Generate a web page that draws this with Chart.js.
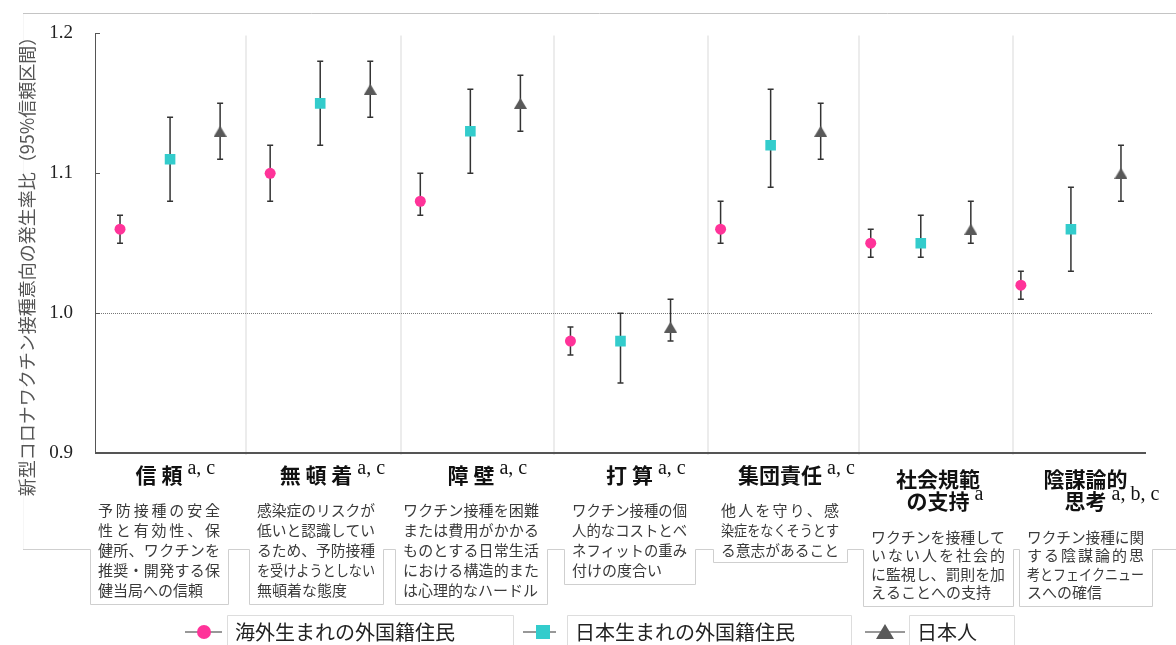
<!DOCTYPE html>
<html lang="ja">
<head>
<meta charset="utf-8">
<script src="https://cdn.jsdelivr.net/npm/chart.js@4.4.1/dist/chart.umd.min.js"></script>
<style>
  html, body { margin: 0; padding: 0; background: #fff; }
  #wrap { width: 1176px; height: 645px; }
</style>
</head>
<body>
<div id="wrap"><canvas id="myChart" width="1176" height="645"></canvas></div>
<script>
// categories and footnote marks
const categories = [["信 頼"], ["無 頓 着"], ["障 壁"], ["打 算"], ["集団責任"], ["社会規範", "の支持"], ["陰謀論的", "思考"]];
const footnotes = ["a, c", "a, c", "a, c", "a, c", "a, c", "a", "a, b, c"];
const descriptions = [
  ["予防接種の安全", "性と有効性、保", "健所、ワクチンを", "推奨・開発する保", "健当局への信頼"],
  ["感染症のリスクが", "低いと認識してい", "るため、予防接種", "を受けようとしない", "無頓着な態度"],
  ["ワクチン接種を困難", "または費用がかかる", "ものとする日常生活", "における構造的また", "は心理的なハードル"],
  ["ワクチン接種の個", "人的なコストとベ", "ネフィットの重み", "付けの度合い"],
  ["他人を守り、感", "染症をなくそうとす", "る意志があること"],
  ["ワクチンを接種して", "いない人を社会的", "に監視し、罰則を加", "えることへの支持"],
  ["ワクチン接種に関", "する陰謀論的思", "考とフェイクニュー", "スへの確信"]
];

const seriesNames = ["海外生まれの外国籍住民", "日本生まれの外国籍住民", "日本人"];

// incidence rate ratios with 95% CI
const foreignBorn     = [1.06, 1.10, 1.08, 0.98, 1.06, 1.05, 1.02];
const foreignBornLow  = [1.05, 1.08, 1.07, 0.97, 1.05, 1.04, 1.01];
const foreignBornHigh = [1.07, 1.12, 1.10, 0.99, 1.08, 1.06, 1.03];

const japanBornForeign     = [1.11, 1.15, 1.13, 0.98, 1.12, 1.05, 1.06];
const japanBornForeignLow  = [1.08, 1.12, 1.10, 0.95, 1.09, 1.04, 1.03];
const japanBornForeignHigh = [1.14, 1.18, 1.16, 1.00, 1.16, 1.07, 1.09];

const japanese     = [1.13, 1.16, 1.15, 0.99, 1.13, 1.06, 1.10];
const japaneseLow  = [1.11, 1.14, 1.13, 0.98, 1.11, 1.05, 1.08];
const japaneseHigh = [1.15, 1.18, 1.17, 1.01, 1.15, 1.08, 1.12];

const yTicks = [0.9, 1.0, 1.1, 1.2];
const refLine = 1.0;

// layout (pixels / x units)
const separators = [2.52, 5.62, 8.68, 11.74, 14.76, 17.84];
const boxes = [
  [90, 228, 604], [249, 383, 604], [395, 547, 604], [564, 695, 584],
  [713, 847, 562], [863, 1013, 606], [1019, 1152, 606]
];
const boxTop = 549;

const colors = ["#ff3399", "#33cccc", "#595959"];
const JP = '"Noto Sans CJK JP", "Noto Sans", sans-serif';
const SERIF = '"Liberation Serif", "DejaVu Serif", serif';

function triangleImage(color, w, h) {
  const c = document.createElement("canvas");
  c.width = w; c.height = h;
  const g = c.getContext("2d");
  g.fillStyle = color;
  g.beginPath();
  g.moveTo(w / 2, 0);
  g.lineTo(w, h);
  g.lineTo(0, h);
  g.closePath();
  g.fill();
  return c;
}

function makePoints(values, s) {
  return values.map((v, i) => ({ x: i * 3 + s, y: v }));
}

function drawJustified(ctx, text, x, y, width, justify) {
  const chars = Array.from(text);
  const natural = ctx.measureText(text).width;
  if (!justify || natural >= width || chars.length < 2) {
    ctx.fillText(text, x, y, width);
    return;
  }
  const widths = chars.map((c) => ctx.measureText(c).width);
  const total = widths.reduce((a, b) => a + b, 0);
  const gap = (width - total) / (chars.length - 1);
  let cx = x;
  chars.forEach((c, k) => {
    ctx.fillText(c, cx, y);
    cx += widths[k] + gap;
  });
}

const errorBars = {
  id: "errorBars",
  beforeDatasetsDraw(chart) {
    const ctx = chart.ctx;
    const xs = chart.scales.x;
    const ys = chart.scales.y;
    const area = chart.chartArea;
    ctx.save();

    // group separators
    ctx.strokeStyle = "#e6e6e6";
    ctx.lineWidth = 1.5;
    separators.forEach((s) => {
      const px = Math.round(xs.getPixelForValue(s));
      ctx.beginPath();
      ctx.moveTo(px, area.top + 2);
      ctx.lineTo(px, area.bottom + 2);
      ctx.stroke();
    });

    // reference line at 1.0
    const ry = Math.round(ys.getPixelForValue(refLine)) + 0.5;
    ctx.strokeStyle = "#777";
    ctx.lineWidth = 1;
    ctx.setLineDash([1, 1]);
    ctx.beginPath();
    ctx.moveTo(area.left, ry);
    ctx.lineTo(area.right, ry);
    ctx.stroke();
    ctx.setLineDash([]);

    // axes
    ctx.strokeStyle = "#555";
    ctx.lineWidth = 1;
    ctx.beginPath();
    ctx.moveTo(area.left + 0.5, area.top);
    ctx.lineTo(area.left + 0.5, area.bottom);
    yTicks.forEach((t) => {
      const ty = Math.round(ys.getPixelForValue(t)) + 0.5;
      ctx.moveTo(area.left, ty);
      ctx.lineTo(area.left + 5, ty);
    });
    ctx.stroke();
    ctx.lineWidth = 2;
    ctx.beginPath();
    ctx.moveTo(area.left, area.bottom);
    ctx.lineTo(area.right - 7, area.bottom);
    ctx.stroke();

    // error bars
    ctx.strokeStyle = "#333";
    ctx.lineWidth = 1.5;
    chart.data.datasets.forEach((ds) => {
      ds.data.forEach((p, i) => {
        const px = xs.getPixelForValue(p.x);
        const lo = ys.getPixelForValue(ds.lows[i]);
        const hi = ys.getPixelForValue(ds.highs[i]);
        ctx.beginPath();
        ctx.moveTo(px, lo);
        ctx.lineTo(px, hi);
        ctx.moveTo(px - 3, lo);
        ctx.lineTo(px + 3, lo);
        ctx.moveTo(px - 3, hi);
        ctx.lineTo(px + 3, hi);
        ctx.stroke();
      });
    });
    ctx.restore();
  },
  afterDraw(chart) {
    const ctx = chart.ctx;
    ctx.save();

    // frame lines
    ctx.strokeStyle = "#c4c4c4";
    ctx.lineWidth = 1;
    ctx.beginPath();
    ctx.moveTo(23, 13.5);
    ctx.lineTo(1176, 13.5);
    ctx.stroke();
    ctx.strokeStyle = "#f6f6f6";
    ctx.beginPath();
    ctx.moveTo(23.5, 14);
    ctx.lineTo(23.5, boxTop);
    ctx.stroke();

    // y axis title
    ctx.save();
    ctx.translate(27, 262);
    ctx.rotate(-Math.PI / 2);
    ctx.fillStyle = "#555";
    ctx.font = "18px " + JP;
    ctx.textAlign = "center";
    ctx.textBaseline = "middle";
    ctx.fillText("新型コロナワクチン接種意向の発生率比（95%信頼区間）", 0, 0);
    ctx.restore();

    // description boxes outline
    ctx.strokeStyle = "#cfcfcf";
    ctx.lineWidth = 1;
    ctx.beginPath();
    ctx.moveTo(23, boxTop + 0.5);
    boxes.forEach((b) => {
      ctx.lineTo(b[0] + 0.5, boxTop + 0.5);
      ctx.lineTo(b[0] + 0.5, b[2] + 0.5);
      ctx.lineTo(b[1] + 0.5, b[2] + 0.5);
      ctx.lineTo(b[1] + 0.5, boxTop + 0.5);
    });
    ctx.lineTo(1176, boxTop + 0.5);
    ctx.stroke();

    // category titles + footnotes
    categories.forEach((lines, i) => {
      const b = boxes[i];
      const cx = (b[0] + b[1]) / 2;
      const y0 = lines.length === 1 ? 475 : 479;
      ctx.font = "bold 21px " + JP;
      ctx.fillStyle = "#111";
      ctx.textAlign = "center";
      ctx.textBaseline = "middle";
      let lastW = 0, lastY = 0;
      lines.forEach((t, k) => {
        const y = y0 + k * 22;
        ctx.fillText(t, cx, y);
        lastW = ctx.measureText(t).width;
        lastY = y;
      });
      ctx.font = "20px " + SERIF;
      ctx.textAlign = "left";
      ctx.textBaseline = "alphabetic";
      ctx.fillText(footnotes[i], cx + lastW / 2 + 5, lastY - 1);
    });

    // descriptions
    ctx.font = "15px " + JP;
    ctx.fillStyle = "#3a3a3a";
    ctx.textAlign = "left";
    ctx.textBaseline = "middle";
    descriptions.forEach((lines, i) => {
      const b = boxes[i];
      const x = b[0] + 8;
      const w = b[1] - b[0] - 16;
      const twoLine = categories[i].length > 1;
      const y0 = twoLine ? 537 : 510;
      const lh = twoLine ? 18.5 : 20;
      lines.forEach((t, k) => {
        drawJustified(ctx, t, x, y0 + k * lh, w, k < lines.length - 1);
      });
    });

    // legend
    const legend = [
      { line: [185, 222], mark: 204, box: [227, 513] },
      { line: [523, 556], mark: 543, box: [567, 851] },
      { line: [865, 905], mark: 885, box: [909, 1014] }
    ];
    const ly = 632;
    legend.forEach((it, i) => {
      ctx.strokeStyle = "#ddd";
      ctx.lineWidth = 1;
      ctx.beginPath();
      ctx.moveTo(it.box[0] + 0.5, 645);
      ctx.lineTo(it.box[0] + 0.5, 615.5);
      ctx.lineTo(it.box[1] + 0.5, 615.5);
      ctx.lineTo(it.box[1] + 0.5, 645);
      ctx.stroke();

      ctx.strokeStyle = "#333";
      ctx.lineWidth = 1.2;
      ctx.beginPath();
      ctx.moveTo(it.line[0], ly);
      ctx.lineTo(it.line[1], ly);
      ctx.stroke();

      ctx.fillStyle = colors[i];
      if (i === 0) {
        ctx.beginPath();
        ctx.arc(it.mark, ly, 7, 0, Math.PI * 2);
        ctx.fill();
      } else if (i === 1) {
        ctx.fillRect(it.mark - 7, ly - 7, 14, 14);
      } else {
        ctx.beginPath();
        ctx.moveTo(it.mark, ly - 8);
        ctx.lineTo(it.mark + 9, ly + 7);
        ctx.lineTo(it.mark - 9, ly + 7);
        ctx.closePath();
        ctx.fill();
      }

      ctx.fillStyle = "#222";
      ctx.font = "20px " + JP;
      ctx.textAlign = "left";
      ctx.textBaseline = "middle";
      ctx.fillText(chart.data.datasets[i].label, it.box[0] + 8, ly);
    });

    ctx.restore();
  }
};

const ctx = document.getElementById("myChart").getContext("2d");
const myChart = new Chart(ctx, {
  type: "scatter",
  data: {
    datasets: [
      {
        label: seriesNames[0],
        data: makePoints(foreignBorn, 0),
        lows: foreignBornLow,
        highs: foreignBornHigh,
        pointStyle: "circle",
        pointRadius: 5.5,
        backgroundColor: colors[0],
        borderWidth: 0,
      },
      {
        label: seriesNames[1],
        data: makePoints(japanBornForeign, 1),
        lows: japanBornForeignLow,
        highs: japanBornForeignHigh,
        pointStyle: "rect",
        pointRadius: 7.5,
        backgroundColor: colors[1],
        borderWidth: 0,
      },
      {
        label: seriesNames[2],
        data: makePoints(japanese, 2),
        lows: japaneseLow,
        highs: japaneseHigh,
        pointStyle: triangleImage(colors[2], 13, 11),
        pointRadius: 7,
        backgroundColor: colors[2],
        borderWidth: 0,
      },
    ],
  },
  options: {
    responsive: false,
    animation: false,
    devicePixelRatio: 1,
    events: [],
    layout: {
      padding: { left: 0, top: 30, right: 23, bottom: 192 },
    },
    scales: {
      x: {
        type: "linear",
        display: false,
        min: -0.5,
        max: 20.64,
      },
      y: {
        min: 0.9,
        max: 1.2,
        afterFit: function (scale) {
          scale.width = 95;
        },
        afterBuildTicks: function (scale) {
          scale.ticks = yTicks.map((v) => ({ value: v }));
        },
        grid: { display: false, drawTicks: false },
        border: { display: false },
        ticks: {
          padding: 22,
          color: "#222",
          font: { family: "Liberation Serif", size: 19 },
          callback: function (v) {
            return Number(v).toFixed(1);
          },
        },
      },
    },
    plugins: {
      legend: { display: false },
      tooltip: { enabled: false },
    },
  },
  plugins: [errorBars],
});
</script>
</body>
</html>
